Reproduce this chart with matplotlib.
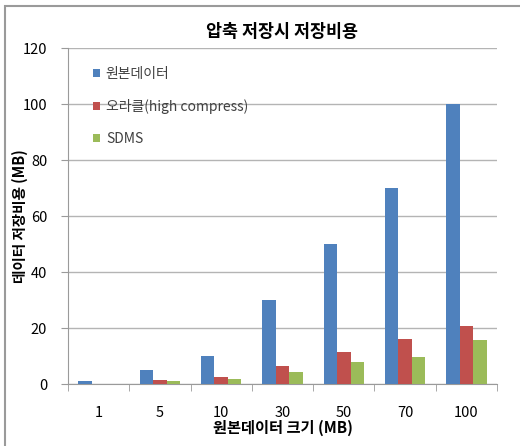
import matplotlib.pyplot as plt
from matplotlib.patches import Rectangle
import numpy as np

plt.rcParams['font.family'] = ['Noto Sans CJK KR', 'DejaVu Sans']

sizes = ['1', '5', '10', '30', '50', '70', '100']
original = [1, 5, 10, 30, 50, 70, 100]
oracle = [0.1, 1.5, 2.5, 6.5, 11.5, 16, 20.7]
sdms = [0.05, 0.9, 1.9, 4.3, 8, 9.8, 15.7]
series_names = ['원본데이터', '오라클(high compress)', 'SDMS']
colors = ['#4F81BD', '#C0504D', '#9BBB59']

fig = plt.figure(figsize=(5.2, 4.46), dpi=100)
ax = fig.add_axes([68/520, 1-384/446, (497-68)/520, (384-48)/446])

# outer chart border (only top and left edges are visible)
fig.patches.append(Rectangle((5/520, -0.1), 1.2, 1.1-6/446, transform=fig.transFigure,
                             fill=False, edgecolor='#9a9a9a', lw=1.5))

x = np.arange(len(sizes))
w = 0.22
for i, (vals, name, c) in enumerate(zip([original, oracle, sdms], series_names, colors)):
    ax.bar(x + (i-1)*w, vals, w, color=c, label=name, zorder=3)

ax.set_xlim(-0.5, len(sizes)-0.5)
ax.set_ylim(0, 120)
ax.set_yticks(range(0, 121, 20))
ax.yaxis.grid(True, color='#b4b4b4', lw=1)
ax.set_axisbelow(True)

ax.set_xticks(x)
ax.set_xticklabels(sizes, fontsize=10.5)
ax.set_xticks(np.arange(-0.5, len(sizes), 1), minor=True)
ax.tick_params(axis='x', which='major', length=0, pad=16)
ax.tick_params(axis='x', which='minor', length=5, color='#9a9a9a')
ax.tick_params(axis='y', length=5, color='#9a9a9a', labelsize=10.5, pad=10)

for s in ['top', 'right']:
    ax.spines[s].set_visible(False)
for s in ['left', 'bottom']:
    ax.spines[s].set_color('#9a9a9a')

ax.set_title('압축 저장시 저장비용', fontsize=12.5, fontweight='bold', pad=8)
ax.set_xlabel('원본데이터 크기 (MB)', fontsize=11, fontweight='bold')
ax.xaxis.set_label_coords(0.5, -0.105)
ax.set_ylabel('데이터 저장비용 (MB)', fontsize=10.5, fontweight='bold')
ax.yaxis.set_label_coords(-0.094, 0.5)

ax.legend(loc='upper left', bbox_to_anchor=(0.03, 0.98), frameon=False,
          handlelength=0.5, handleheight=0.5, handletextpad=0.4,
          labelspacing=1.3, fontsize=10, labelcolor='#404040')

fig.savefig('out.png', dpi=100)
